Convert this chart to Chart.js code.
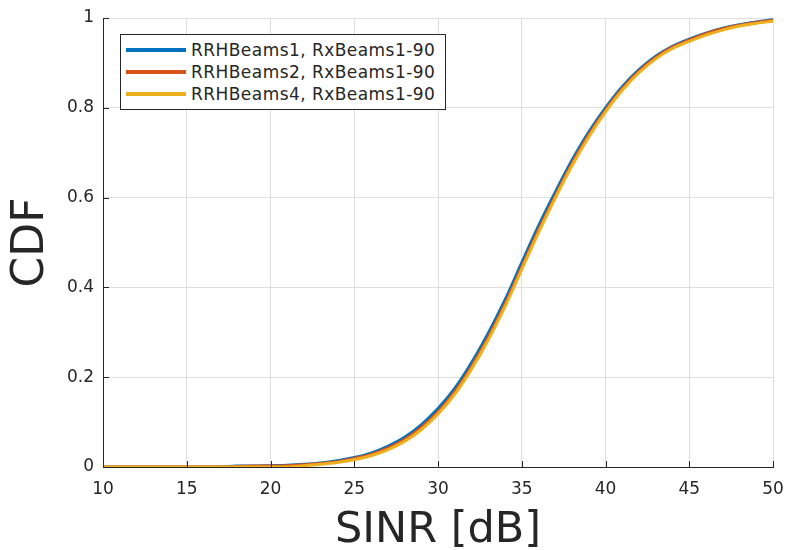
<!DOCTYPE html>
<html lang="en">
<head>
  <meta charset="UTF-8">
  <title>SINR CDF</title>
  <style>
    body {
      margin: 0;
      background: white;
      font-family: "DejaVu Sans", sans-serif;
    }
    #wrap {
      position: relative;
      width: 789px;
      height: 550px;
    }
    #legendBox {
      position: absolute;
      left: 120px;
      top: 34px;
      width: 326px;
      height: 76px;
      border: 1px solid #262626;
      background: white;
      box-sizing: border-box;
      padding-top: 4px;
    }
    .legRow {
      display: flex;
      align-items: center;
      height: 22px;
      font-size: 17px;
      letter-spacing: 0.45px;
      color: #262626;
      white-space: nowrap;
    }
    .legLine {
      display: inline-block;
      width: 60px;
      height: 4px;
      margin-left: 5px;
      margin-right: 5px;
    }
  </style>
  <script src="https://cdn.jsdelivr.net/npm/chart.js"></script>
</head>
<body>
  <div id="wrap">
    <canvas id="myChart" width="789" height="550"></canvas>
    <div id="legendBox"></div>
  </div>

  <script>
    // SINR axis (dB)
    const sinrDb = [10, 11, 12, 13, 14, 15, 16, 17, 18, 19, 20, 21, 22, 23, 24, 25, 26, 27, 28, 29,
                    30, 31, 32, 33, 34, 35, 36, 37, 38, 39, 40, 41, 42, 43, 44, 45, 46, 47, 48, 49, 50];

    // CDF values
    const cdfBeams1 = [0, 0, 0, 0, 0, 0, 0, 0, 0.002, 0.002, 0.003, 0.004, 0.006, 0.009, 0.014, 0.021, 0.031, 0.046, 0.066, 0.094,
                       0.130, 0.175, 0.232, 0.298, 0.372, 0.455, 0.537, 0.612, 0.683, 0.746, 0.800, 0.847, 0.885, 0.915, 0.937, 0.953, 0.966, 0.977, 0.985, 0.991, 0.996];
    const cdfBeams2 = [0, 0, 0, 0, 0, 0, 0, 0, 0.001, 0.002, 0.002, 0.003, 0.005, 0.008, 0.012, 0.019, 0.028, 0.042, 0.061, 0.088,
                       0.123, 0.168, 0.224, 0.289, 0.363, 0.446, 0.528, 0.604, 0.676, 0.740, 0.795, 0.843, 0.882, 0.912, 0.935, 0.951, 0.965, 0.976, 0.984, 0.990, 0.995];
    const cdfBeams4 = [0, 0, 0, 0, 0, 0, 0, 0, 0, 0, 0, 0, 0.003, 0.006, 0.010, 0.016, 0.025, 0.038, 0.057, 0.083,
                       0.118, 0.162, 0.218, 0.283, 0.357, 0.440, 0.522, 0.599, 0.671, 0.735, 0.791, 0.839, 0.878, 0.909, 0.932, 0.948, 0.962, 0.973, 0.982, 0.988, 0.993];

    const seriesNames = ['RRHBeams1, RxBeams1-90', 'RRHBeams2, RxBeams1-90', 'RRHBeams4, RxBeams1-90'];
    const seriesColors = ['#0072BD', '#D95319', '#EDB120'];
    const seriesValues = [cdfBeams1, cdfBeams2, cdfBeams4];

    const xTicks = [10, 15, 20, 25, 30, 35, 40, 45, 50];
    const yTicks = [0, 0.2, 0.4, 0.6, 0.8, 1];
    const yTickLabels = ['0', '0.2', '0.4', '0.6', '0.8', '1'];

    const axisColor = '#262626';
    const gridColor = '#dfdfdf';

    // legend (html, sits inside the plot like matlab's)
    const legendBox = document.getElementById('legendBox');
    seriesNames.forEach((name, i) => {
      const row = document.createElement('div');
      row.className = 'legRow';
      row.innerHTML = '<span class="legLine" style="background:' + seriesColors[i] + '"></span><span>' + name + '</span>';
      legendBox.appendChild(row);
    });

    // matlab style inward tick marks
    const inwardTicks = {
      id: 'inwardTicks',
      afterDatasetsDraw(chart) {
        const c = chart.ctx;
        const area = chart.chartArea;
        const xs = chart.scales.x, ys = chart.scales.y;
        c.save();
        c.strokeStyle = axisColor;
        c.lineWidth = 1;
        c.beginPath();
        xTicks.forEach(v => {
          const px = Math.round(xs.getPixelForValue(v)) + 0.5;
          c.moveTo(px, area.bottom);
          c.lineTo(px, area.bottom - 6);
        });
        yTicks.forEach(v => {
          const py = Math.round(ys.getPixelForValue(v)) + 0.5;
          c.moveTo(area.left, py);
          c.lineTo(area.left + 6, py);
        });
        c.stroke();
        c.restore();
      }
    };

    const ctx = document.getElementById('myChart').getContext('2d');
    const myChart = new Chart(ctx, {
      type: 'line',
      data: {
        datasets: seriesValues.map((vals, i) => ({
          label: seriesNames[i],
          data: sinrDb.map((x, j) => ({ x: x, y: vals[j] })),
          borderColor: seriesColors[i],
          backgroundColor: seriesColors[i],
          borderWidth: 3,
          pointRadius: 0,
          cubicInterpolationMode: 'monotone',
          fill: false,
          order: 3 - i   // yellow drawn last, on top
        }))
      },
      options: {
        responsive: false,
        animation: false,
        layout: {
          padding: { top: 18, right: 16, left: 10, bottom: 0 }
        },
        plugins: {
          legend: { display: false },
          tooltip: { enabled: false }
        },
        scales: {
          x: {
            type: 'linear',
            min: 10,
            max: 50,
            afterBuildTicks: s => { s.ticks = xTicks.map(v => ({ value: v })); },
            afterFit: s => { s.height = 83; s.paddingLeft = 0; s.paddingRight = 0; },
            grid: { color: gridColor, drawTicks: false },
            border: { display: true, color: axisColor, width: 1 },
            ticks: {
              padding: 12,
              color: axisColor,
              font: { family: 'DejaVu Sans', size: 17 },
              maxRotation: 0
            },
            title: {
              display: true,
              text: 'SINR [dB]',
              color: axisColor,
              padding: 0,
              font: { family: 'DejaVu Sans', size: 43, lineHeight: 0.9 }
            }
          },
          y: {
            min: 0,
            max: 1,
            afterBuildTicks: s => { s.ticks = yTicks.map(v => ({ value: v })); },
            afterFit: s => { s.width = 93; s.paddingTop = 0; s.paddingBottom = 0; },
            grid: { color: gridColor, drawTicks: false },
            border: { display: true, color: axisColor, width: 1 },
            ticks: {
              padding: 9,
              color: axisColor,
              font: { family: 'DejaVu Sans', size: 17 },
              callback: (v, i) => yTickLabels[i]
            },
            title: {
              display: true,
              text: 'CDF',
              color: axisColor,
              padding: 0,
              font: { family: 'DejaVu Sans', size: 44, lineHeight: 1 }
            }
          }
        }
      },
      plugins: [inwardTicks]
    });
  </script>
</body>
</html>
